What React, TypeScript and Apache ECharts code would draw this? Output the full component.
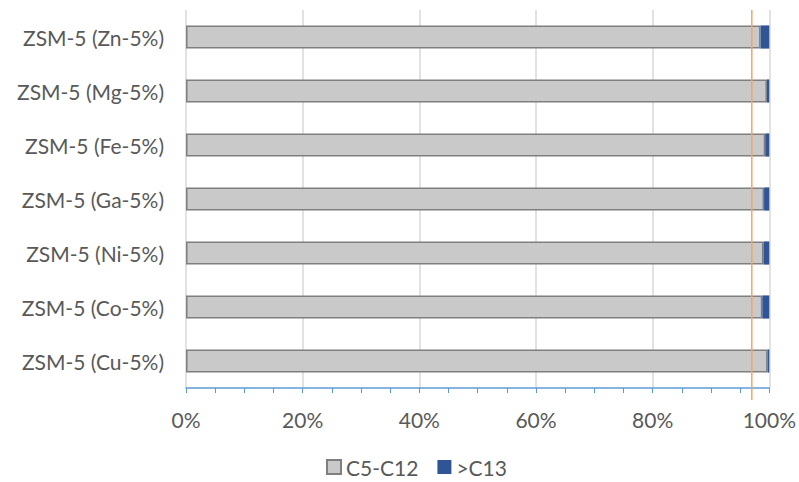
import React, { useEffect, useRef } from "react";
import * as echarts from "echarts";

// Catalysts, listed bottom to top as they appear on the category axis
const catalysts = [
  "ZSM-5 (Cu-5%)",
  "ZSM-5 (Co-5%)",
  "ZSM-5 (Ni-5%)",
  "ZSM-5 (Ga-5%)",
  "ZSM-5 (Fe-5%)",
  "ZSM-5 (Mg-5%)",
  "ZSM-5 (Zn-5%)",
];

// Product distribution shares (%)
const c5c12 = [99.7, 98.8, 99.0, 99.1, 99.3, 99.6, 98.5];
const c13plus = [0.3, 1.2, 1.0, 0.9, 0.7, 0.4, 1.5];

// Reference level drawn as a vertical line (%)
const referenceLevel = 97;

const xTicks = [0, 20, 40, 60, 80, 100];

const FONT = "Lato, 'Open Sans', sans-serif";
const TEXT = "#595959";

export default function App() {
  const ref = useRef<HTMLDivElement>(null);

  useEffect(() => {
    if (!ref.current) return;
    const chart = echarts.init(ref.current, undefined, { renderer: "svg" });
    chart.setOption({
      animation: false,
      backgroundColor: "#ffffff",
      textStyle: { fontFamily: FONT },
      grid: { left: 186, right: 28, top: 10, bottom: 94, containLabel: false },
      legend: {
        top: 455,
        left: 326,
        padding: 0,
        itemWidth: 14,
        itemHeight: 14,
        itemGap: 19,
        icon: "rect",
        textStyle: { color: TEXT, fontSize: 21, fontFamily: FONT, lineHeight: 24 },
        data: ["C5-C12", ">C13"],
      },
      xAxis: {
        type: "value",
        min: xTicks[0],
        max: xTicks[xTicks.length - 1],
        interval: 20,
        axisLabel: {
          color: TEXT,
          fontSize: 21,
          margin: 21,
          formatter: (v: number) => `${v}%`,
        },
        axisLine: { show: true, lineStyle: { color: "#5b9bd5", width: 1.5 } },
        axisTick: { show: true, lineStyle: { color: "#5b9bd5" }, length: 5 },
        minorTick: { show: true, splitNumber: 4, length: 5, lineStyle: { color: "#5b9bd5" } },
        splitLine: { show: true, lineStyle: { color: "#d9d9d9", width: 1.5 } },
      },
      yAxis: {
        type: "category",
        data: catalysts,
        axisLine: { show: false },
        axisTick: { show: false },
        axisLabel: { color: TEXT, fontSize: 21, margin: 22 },
      },
      series: [
        {
          name: "C5-C12",
          type: "bar",
          stack: "total",
          barCategoryGap: "57%",
          data: c5c12,
          itemStyle: { color: "#c9c9c9", borderColor: "#7f7f7f", borderWidth: 1.5 },
        },
        {
          name: ">C13",
          type: "bar",
          stack: "total",
          data: c13plus,
          itemStyle: { color: "#2f5597" },
        },
      ],
    });

    const x = chart.convertToPixel({ xAxisIndex: 0 }, referenceLevel) as number;
    chart.setOption({
      graphic: [
        {
          type: "line",
          shape: { x1: x, y1: 10, x2: x, y2: 400 },
          style: { stroke: "#f4a46a", lineWidth: 1.5 },
          z: 100,
        },
      ],
    });

    return () => chart.dispose();
  }, []);

  return (
    <div
      ref={ref}
      style={{ position: "absolute", left: 0, top: 0, width: 799, height: 482 }}
    />
  );
}
